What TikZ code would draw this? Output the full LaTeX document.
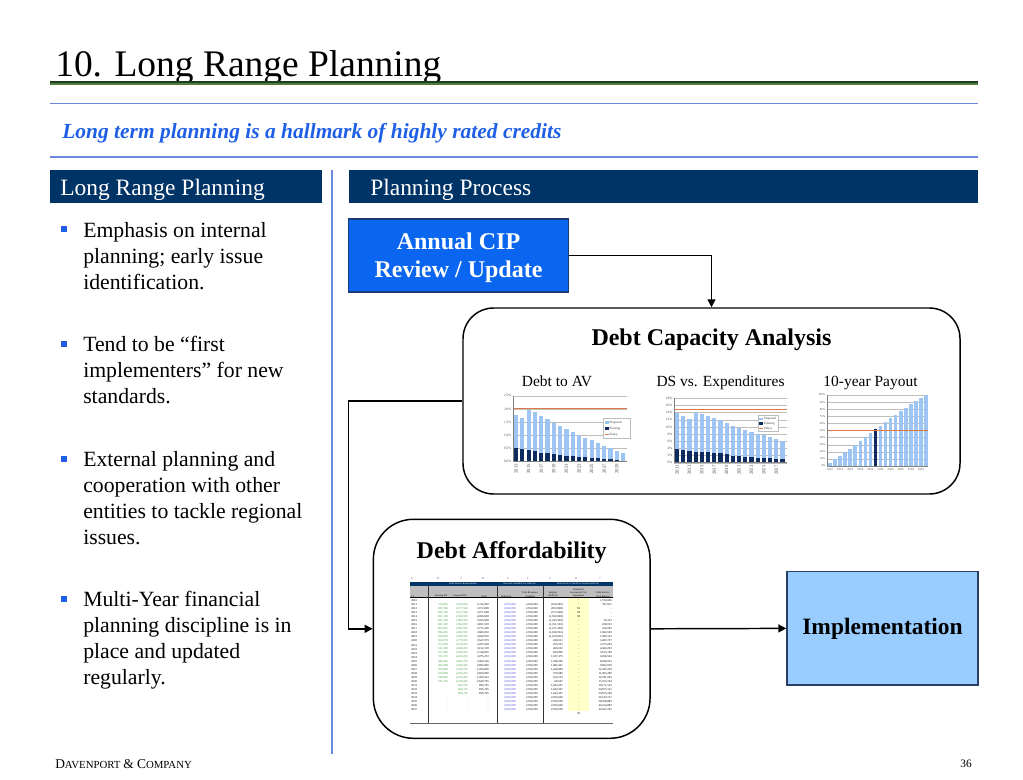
\documentclass[tikz,border=0pt]{standalone}
\usepackage{fontspec}
\setmainfont{Liberation Serif}
\usetikzlibrary{arrows.meta}
\definecolor{navy}{HTML}{003366}
\definecolor{ruleblue}{HTML}{6A88DE}
\definecolor{subblue}{HTML}{1F5FE6}
\definecolor{cipblue}{HTML}{0A66F0}
\definecolor{cipedge}{HTML}{1A3A78}
\definecolor{implblue}{HTML}{99CCFF}
\definecolor{impledge}{HTML}{2A3F66}
\definecolor{darkgreen}{HTML}{1E3F1E}
\definecolor{midgreen}{HTML}{4E7F3E}
\definecolor{barlight}{HTML}{9EC5F2}
\definecolor{bardark}{HTML}{0D2B5E}
\definecolor{policy}{HTML}{DD7A45}
\definecolor{gridgray}{HTML}{BDBDBD}
\definecolor{tgreen}{HTML}{3C9A3C}
\definecolor{tblue}{HTML}{3A3AE0}
\definecolor{tyellow}{HTML}{FFFFC8}
\definecolor{tgray}{HTML}{BEBEBE}
\newcommand\setfs[2]{\fontsize{#1}{#2}\selectfont}
\begin{document}
\begin{tikzpicture}[x=0.75pt,y=-0.75pt,
  conn/.style={draw=black,line width=1.1pt},
  tipped/.style={-{Triangle[length=6pt,width=6pt]}},
  hdrbar/.style={fill=navy,inner sep=0,anchor=north west,minimum height=24.75pt},
  hdrtext/.style={anchor=base west,inner sep=0,text=white,font=\setfs{17.6}{20}},
  bullettext/.style={anchor=base west,inner sep=0,font=\setfs{16.3}{19.5}},
  bsq/.style={fill=subblue},
  rbox/.style={draw=black,line width=1.1pt,fill=white},
  boxtitle/.style={anchor=base,inner sep=0,font=\setfs{18}{21}\bfseries},
  charttitle/.style={anchor=base,inner sep=0,font=\setfs{11.6}{13}},
  grid/.style={draw=gridgray,line width=0.3pt},
  axline/.style={draw=gray,line width=0.35pt},
  pol/.style={draw=policy,line width=0.7pt},
  ax/.style={inner sep=0.3pt,font=\setfs{2.6}{3},text=black!70},
  leg/.style={inner sep=0.2pt,anchor=west,font=\setfs{2.4}{3},text=black!80},
  tb/.style={inner sep=0pt,font=\setfs{2.2}{2.6}},
  th/.style={inner sep=0pt,font=\setfs{1.9}{2.3},align=center,anchor=south},
]
\useasboundingbox (0,0) rectangle (1023,780);

% ---------- title area ----------
\node[anchor=base west,inner sep=0] (title) at (55,77) {\setfs{28.1}{33}10. Long Range Planning};
\draw[darkgreen,line width=1.3pt] (50,81.8) -- (978,81.8);
\draw[midgreen,line width=1.4pt] (50,84.3) -- (978,84.3);
\draw[ruleblue,line width=0.9pt] (50,103.3) -- (978,103.3);
\node[anchor=base west,inner sep=0,text=subblue] (sub) at (62,138.5)
  {\setfs{16.1}{19}\bfseries\itshape Long term planning is a hallmark of highly rated credits};
\draw[ruleblue,line width=0.9pt] (50,157) -- (978,157);

% ---------- header bars ----------
\node[hdrbar,minimum width=204pt] (lhead) at (50,170) {};
\node[hdrtext] (lheadt) at (60,196) {Long Range Planning};
\node[hdrbar,minimum width=471.75pt] (rhead) at (349,170) {};
\node[hdrtext] (rheadt) at (370,196) {Planning Process};
\draw[ruleblue,line width=0.9pt] (332,170) -- (332,754);

% ---------- bullets ----------
\foreach \yb in {237.3,351.7,466.7,606.7} \fill[bsq] (61,{\yb-10.8}) rectangle (67,{\yb-4.8});
\node[bullettext] (b1) at (83,237.3) {\parbox[t]{240pt}{Emphasis on internal\\planning; early issue\\identification.}};
\node[bullettext] (b2) at (83,351.7) {\parbox[t]{240pt}{Tend to be “first\\implementers” for new\\standards.}};
\node[bullettext] (b3) at (83,466.7) {\parbox[t]{240pt}{External planning and\\cooperation with other\\entities to tackle regional\\issues.}};
\node[bullettext] (b4) at (83,606.7) {\parbox[t]{240pt}{Multi-Year financial\\planning discipline is in\\place and updated\\regularly.}};

% ---------- diagram boxes ----------
\node[draw=cipedge,line width=1.1pt,fill=cipblue,minimum width=165pt,minimum height=54.75pt,
      inner sep=0] (cip) at (458.5,255.5) {};
\node[inner sep=0,text=white,align=center,font=\setfs{18}{21}\bfseries] (cipt) at (458.5,258)
      {Annual CIP\\Review / Update};
\node[rbox,rounded corners=23pt,minimum width=372.75pt,minimum height=139.5pt,inner sep=0] (dca) at (711.5,401) {};
\node[rbox,rounded corners=30pt,minimum width=207.5pt,minimum height=164.25pt,inner sep=0] (daf) at (511.7,628.8) {};
\node[draw=impledge,line width=1.1pt,fill=implblue,minimum width=143.25pt,minimum height=85pt,
      inner sep=0,font=\setfs{17.6}{20}\bfseries] (impl) at (882.5,628.4) {Implementation};

\node[boxtitle] (dcat) at (711.5,345) {Debt Capacity Analysis};
\node[boxtitle] (daft) at (511.7,558.3) {Debt Affordability};

% ---------- connectors ----------
\coordinate (fb) at (348.5,401);
\draw[conn,tipped] (cip.east) -| (dca.north);
\draw[conn,tipped] (dca.west) -- (fb) |- (daf.west);
\draw[conn,tipped] (daf.east) -- (impl.west);

% ---------- chart 1: Debt to AV ----------
\node[charttitle] (c1t) at (557,386.7) {Debt to AV};
\foreach \v in {0,0.5,1,1.5,2,2.5} \draw[grid] (513,{461.3-26.2*\v}) -- (627,{461.3-26.2*\v});
\foreach \v/\t [count=\n] in {0/0.0,0.5/0.5,1/1.0,1.5/1.5,2/2.0,2.5/2.5}
  \node[ax,anchor=east] (c1y\n) at (512,{461.3-26.2*\v}) {\t\%};
\foreach \p/\e [count=\i from 0] in {1.75/0.5,1.65/0.46,1.97/0.42,1.87/0.38,1.72/0.33,1.6/0.3,1.48/0.28,1.35/0.25,1.22/0.22,1.1/0.2,1.02/0.18,0.88/0.15,0.8/0.13,0.7/0.11,0.6/0.09,0.5/0.07,0.4/0.05,0.32/0.03}{
  \fill[barlight] ({516+6.3*\i-2.1},461.3) rectangle ({516+6.3*\i+2.1},{461.3-26.2*\p});
  \fill[bardark] ({516+6.3*\i-2.1},461.3) rectangle ({516+6.3*\i+2.1},{461.3-26.2*\e});
}
\draw[pol] (513,408.3) -- (627,408.3);
\draw[axline] (513,395.7) -- (513,461.3) -- (627,461.3);
\foreach \i in {0,2,...,16}{
  \pgfmathtruncatemacro\yr{2013+\i}
  \node[ax,rotate=90,anchor=east,font=\setfs{3.6}{4}] (c1x\i) at ({516+6.3*\i},463.3) {\yr};
}
\draw[gridgray,fill=white,line width=0.3pt] (603,418) rectangle (630,438);
\fill[barlight] (604.5,421) rectangle (608.5,424);
\node[leg] (c1l1) at (609,422.5) {Proposed};
\fill[bardark] (604.5,427) rectangle (608.5,430);
\node[leg] (c1l2) at (609,428.5) {Existing};
\draw[pol] (604.5,434.5) -- (608.5,434.5);
\node[leg] (c1l3) at (609,434.5) {Policy};

% ---------- chart 2: DS vs. Expenditures ----------
\node[charttitle] (c2t) at (720.5,386.7) {DS vs. Expenditures};
\foreach \v in {0,2,...,18} \draw[grid] (674,{462.7-3.58*\v}) -- (786.7,{462.7-3.58*\v});
\foreach \v [count=\n] in {0,2,...,18}
  \node[ax,anchor=east] (c2y\n) at (673,{462.7-3.58*\v}) {\v\%};
\foreach \p/\e [count=\i from 0] in {13.8/3.8,13/3.6,12.3/3.4,14.2/3.1,13.7/3.0,13/2.9,12.5/2.7,12/2.6,11.2/2.4,10.2/1.9,9.7/1.8,9.2/1.6,8.7/1.5,8/1.4,7.6/1.3,7.3/1.2,6.7/1.0,6.2/0.9}{
  \fill[barlight] ({677+6.2*\i-2.1},462.7) rectangle ({677+6.2*\i+2.1},{462.7-3.58*\p});
  \fill[bardark] ({677+6.2*\i-2.1},462.7) rectangle ({677+6.2*\i+2.1},{462.7-3.58*\e});
}
\draw[pol] (674,409) -- (786.7,409);
\draw[axline] (674,398.3) -- (674,462.7) -- (786.7,462.7);
\foreach \i in {0,2,...,16}{
  \pgfmathtruncatemacro\yr{2011+\i}
  \node[ax,rotate=90,anchor=east,font=\setfs{3.6}{4}] (c2x\i) at ({677+6.2*\i},464.7) {\yr};
}
\draw[gridgray,fill=white,line width=0.3pt] (758,415) rectangle (778,431);
\fill[barlight] (759.3,417.5) rectangle (763,420);
\node[leg] (c2l1) at (763.5,418.7) {Proposed};
\fill[bardark] (759.3,422.3) rectangle (763,424.8);
\node[leg] (c2l2) at (763.5,423.5) {Existing};
\draw[pol] (759.3,428.3) -- (763,428.3);
\node[leg] (c2l3) at (763.5,428.3) {Policy};

% ---------- chart 3: 10-year Payout ----------
\node[charttitle] (c3t) at (870.5,386.7) {10-year Payout};
\foreach \v in {0,10,...,100} \draw[grid] (827,{466-0.71*\v}) -- (928,{466-0.71*\v});
\foreach \v [count=\n] in {0,10,...,100}
  \node[ax,anchor=east,font=\setfs{2.2}{2.6}] (c3y\n) at (826,{466-0.71*\v}) {\v\%};
\foreach \p [count=\i from 0] in {4.5,9.5,14.5,19.5,24.5,29.5,35,41,46.5,52,57,62,67,72,77,82,87,92,96,100}{
  \ifnum\i=9
    \fill[bardark] ({830+5.05*\i-1.8},466) rectangle ({830+5.05*\i+1.8},{466-0.71*\p});
  \else
    \fill[barlight] ({830+5.05*\i-1.8},466) rectangle ({830+5.05*\i+1.8},{466-0.71*\p});
  \fi
}
\draw[pol] (827,430.5) -- (928,430.5);
\draw[axline] (827,395) -- (827,466) -- (928,466);
\foreach \i in {0,2,...,18}{
  \pgfmathtruncatemacro\yr{2012+\i}
  \node[ax,anchor=north,font=\setfs{2.2}{2.6}] (c3x\i) at ({830+5.05*\i},468) {\yr};
}

% ---------- table in Debt Affordability ----------
\foreach \x/\l in {412/A,438/B,461/C,483/D,508/E,528/F,550/G,576/H,600/I}
  \node[tb,text=black!60] (tl\l) at (\x,579) {\l};
\fill[navy] (410,581.5) rectangle (613.3,586);
\fill[tgray] (410,586) rectangle (613.3,597.7);
\fill[tyellow] (568.3,598) rectangle (589,711);
\node[tb,text=white,font=\setfs{1.9}{2.2}] (th1) at (463,583.8) {Debt Service Requirements};
\node[tb,text=white,font=\setfs{1.9}{2.2}] (th2) at (520,583.8) {Revenue Available for Debt Svc};
\node[tb,text=white,font=\setfs{1.9}{2.2}] (th3) at (578,583.8) {Debt Service Cash Flow Surplus (Deficit)};
\node[th] (s1) at (413,597.3) {FY};
\node[th] (s2) at (441,597.3) {Existing DS};
\node[th] (s3) at (460,597.3) {Proposed DS};
\node[th] (s4) at (484,597.3) {Total};
\node[th] (s5) at (506,597.3) {Dedicated};
\node[th] (s6) at (530,597.3) {Total Revenues\\Available};
\node[th] (s7) at (553,597.3) {Surplus/\\(Deficit)};
\node[th] (s8) at (578.5,597.3) {Estimated\\Incremental Tax\\Equivalent};
\node[th] (s9) at (603,597.3) {Debt Service\\Fund Balance};
\draw[black,line width=0.4pt] (410,597.7) -- (613.3,597.7);
\foreach \x in {428.3,497.3,543.3} \draw[black!80,line width=0.5pt] (\x,586) -- (\x,723.5);
\draw[black!60,line width=1pt] (410,723.8) -- (613.3,723.8);
\foreach \yr/\colB/\colC/\colD/\colG/\colH/\colI [count=\k from 0] in {
 2010/{}/{}/{}/{}/-/{1,700,000},
 2011/{510,000}/{1,500,000}/{3,112,000}/{(612,000)}/-/{787,651},
 2012/{695,308}/{2,177,500}/{3,372,808}/{(872,808)}/62/-,
 2013/{830,148}/{2,137,500}/{3,077,648}/{(577,648)}/58/-,
 2014/{801,108}/{2,160,595}/{4,000,608}/{(1,500,608)}/58/-,
 2015/{843,138}/{1,980,595}/{3,935,928}/{(1,435,928)}/-/{30,313},
 2016/{847,300}/{2,062,895}/{3,851,550}/{(1,351,550)}/-/{208,053},
 2017/{860,000}/{2,062,595}/{3,771,298}/{(1,271,298)}/-/{414,995},
 2018/{596,000}/{2,060,595}/{3,680,950}/{(1,180,950)}/-/{1,064,509},
 2019/{580,800}/{2,030,595}/{3,600,650}/{(1,100,650)}/-/{1,589,142},
 2020/{560,078}/{2,770,595}/{3,547,979}/{268,021}/-/{3,409,727},
 2021/{551,838}/{2,135,595}/{3,267,638}/{295,031}/-/{3,375,094},
 2022/{542,238}/{2,040,295}/{3,152,158}/{469,232}/-/{4,460,293},
 2023/{527,938}/{2,556,295}/{3,116,605}/{843,809}/-/{5,613,789},
 2024/{515,170}/{2,224,295}/{3,075,472}/{1,027,475}/-/{6,058,504},
 2025/{498,340}/{2,062,795}/{2,960,140}/{1,048,390}/-/{8,208,025},
 2026/{483,308}/{2,590,295}/{2,892,860}/{1,082,401}/-/{9,832,039},
 2027/{500,069}/{2,336,795}/{2,784,836}/{1,240,890}/-/{11,092,259},
 2028/{509,688}/{2,225,295}/{2,850,990}/{970,983}/-/{11,383,280},
 2029/{549,800}/{2,224,295}/{2,399,243}/{109,210}/-/{12,781,092},
 2030/{521,350}/{2,228,295}/{2,649,795}/{69,207}/-/{17,413,764},
 2031/{}/{856,795}/{856,795}/{1,643,207}/-/{19,171,512},
 2032/{}/{856,795}/{856,795}/{1,643,207}/-/{20,875,121},
 2033/{}/{856,795}/{856,795}/{1,643,207}/-/{20,915,248},
 2034/-/-/-/{2,500,000}/-/{30,553,711},
 2035/-/-/-/{2,500,000}/-/{38,508,883},
 2036/-/-/-/{2,500,000}/-/{40,414,883},
 2037/-/-/-/{2,500,000}/-/{42,933,105}}{
  \pgfmathsetmacro\ry{600.5+4.05*\k}
  \node[tb,anchor=west] (r\k a) at (411,\ry) {\yr};
  \node[tb,anchor=east,text=tgreen] (r\k b) at (448,\ry) {\colB};
  \node[tb,anchor=east,text=tgreen] (r\k c) at (468,\ry) {\colC};
  \node[tb,anchor=east] (r\k d) at (489,\ry) {\colD};
  \ifnum\k>0
    \node[tb,anchor=east,text=tblue] (r\k e) at (516,\ry) {2,500,000};
    \node[tb,anchor=east] (r\k f) at (538,\ry) {2,500,000};
  \fi
  \node[tb,anchor=east] (r\k g) at (563,\ry) {\colG};
  \node[tb] (r\k h) at (578.5,\ry) {\colH};
  \node[tb,anchor=east] (r\k i) at (612,\ry) {\colI};
}
\node[tb] (tend) at (578.5,714) {58};

% ---------- footer ----------
\node[anchor=base west,inner sep=0] (foot) at (55,768)
  {\setfs{10.1}{12}D\setfs{8.1}{10}AVENPORT \setfs{10.1}{12}\& C\setfs{8.1}{10}OMPANY};
\node[anchor=base east,inner sep=0] (pg) at (972,767) {\setfs{8.5}{10}36};
\end{tikzpicture}
\end{document}
